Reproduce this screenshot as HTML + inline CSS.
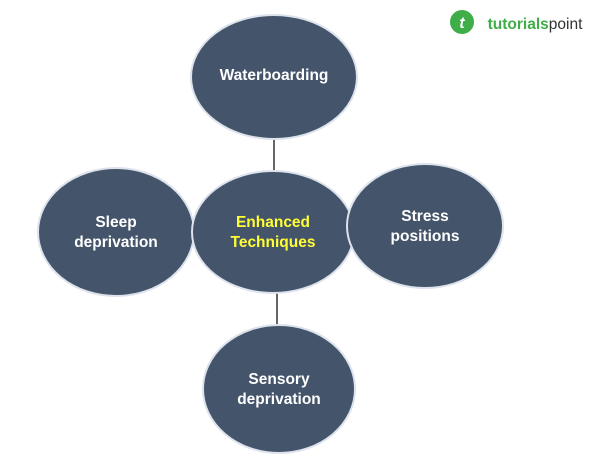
<!DOCTYPE html>
<html><head><style>
body{margin:0;background:#fff;width:600px;height:462px;overflow:hidden}
text{font-family:"Liberation Sans",sans-serif;font-weight:bold;font-size:15.5px;text-anchor:middle}
</style></head><body>
<svg width="600" height="462" xmlns="http://www.w3.org/2000/svg">
<line x1="274" y1="138" x2="274" y2="174" stroke="#333" stroke-width="1.5"/>
<line x1="277" y1="291" x2="277" y2="327" stroke="#333" stroke-width="1.5"/>
<g fill="#44546a" stroke="#dde3ec" stroke-width="2">
<ellipse cx="274" cy="77" rx="83" ry="62"/>
<ellipse cx="116" cy="232" rx="78" ry="64"/>
<ellipse cx="273" cy="232" rx="81" ry="61"/>
<ellipse cx="425" cy="226" rx="78" ry="62"/>
<ellipse cx="279" cy="389" rx="76" ry="64"/>
</g>
<g fill="#fff">
<text x="274" y="80">Waterboarding</text>
<text x="116" y="227">Sleep</text><text x="116" y="247">deprivation</text>
<text x="425" y="221">Stress</text><text x="425" y="241">positions</text>
<text x="279" y="384">Sensory</text><text x="279" y="404">deprivation</text>
</g>
<g fill="#ffff33">
<text x="273" y="227">Enhanced</text><text x="273" y="247">Techniques</text>
</g>
<circle cx="462" cy="22" r="12" fill="#3fae49"/>
<text x="462" y="28" fill="#fff" font-size="16" style="font-style:italic">t</text>
<text x="535" y="29" fill="#3fae49" font-size="19" style="text-anchor:middle">tutorials<tspan fill="#333" font-weight="normal">point</tspan></text>
</svg>
</body></html>
